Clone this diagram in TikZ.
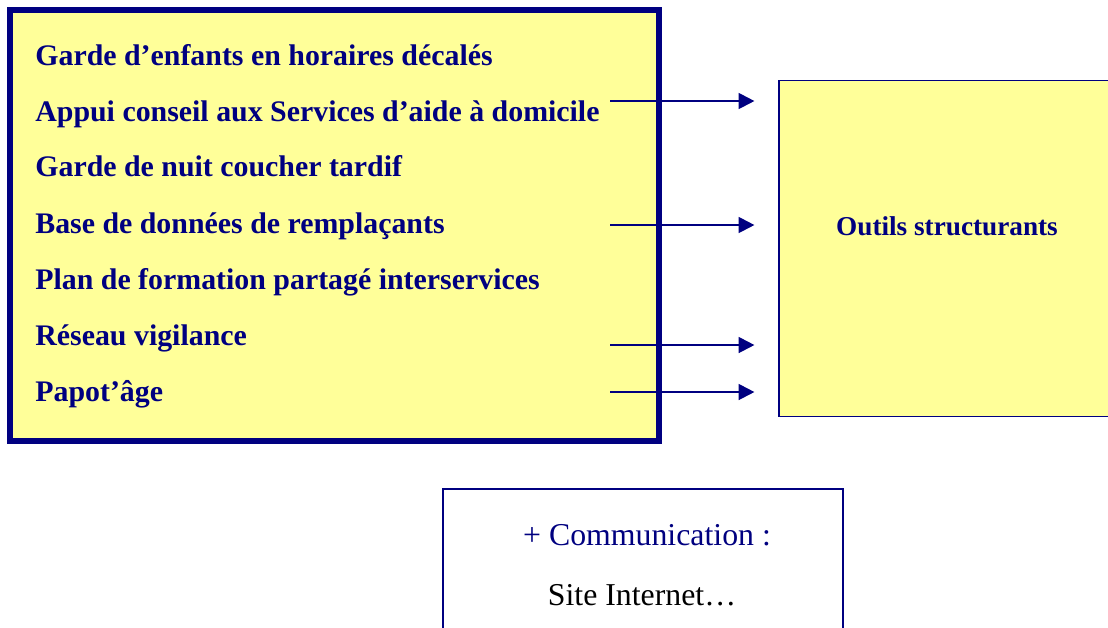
\documentclass[tikz,border=0pt]{standalone}
\usepackage{fontspec}
\setmainfont{Liberation Serif}
\usetikzlibrary{arrows.meta,positioning}
\definecolor{navy}{HTML}{000080}
\definecolor{paleyellow}{HTML}{FFFF99}
\tikzset{
  item/.style={anchor=base west, inner sep=0pt, text=navy, font=\fontsize{17}{20}\selectfont\bfseries},
  feed/.style={->, navy, line width=1.2pt, shorten >=0.48cm},
}

\begin{document}
\begin{tikzpicture}[x=0.02cm, y=-0.02cm, >={Triangle[length=9pt,width=9pt]}]
    \clip (0,0) rectangle (1108,627);

    % Actions panel
    \draw[navy, line width=3.4pt, fill=paleyellow] (10,10) rectangle (659,441);
    \foreach \y/\name/\txt in {65/garde/Garde d’enfants en horaires décalés,
                               121/appui/Appui conseil aux Services d’aide à domicile,
                               176/nuit/Garde de nuit coucher tardif,
                               233/base/Base de données de remplaçants,
                               289/plan/Plan de formation partagé interservices,
                               345/reseau/Réseau vigilance,
                               401/papotage/Papot’âge}
        \node[item] (\name) at (35,\y) {\txt};

    % Tools box
    \node[draw=navy, line width=0.7pt, fill=paleyellow, minimum width=6.72cm, minimum height=6.72cm] (outils) at (947,248.7) {};
    \node[anchor=base, text=navy, font=\fontsize{15.5}{18}\selectfont\bfseries] (outilstxt) at (947,235) {Outils structurants};

    % Arrows
    \coordinate (a1) at (610,101);
    \coordinate (a2) at (610,225);
    \coordinate (a3) at (610,345);
    \coordinate (a4) at (610,392);
    \foreach \a in {a1,a2,a3,a4}
        \draw[feed] (\a) -- (\a -| outils.west);

    % Communication box
    \draw[navy, line width=0.7pt, fill=white] (443,489) rectangle (843,660);
    \node[anchor=base, font=\fontsize{18.1}{22}\selectfont] (comm) at (647,545) {\textcolor{navy}{+ Communication :}};
    \node[anchor=base, font=\fontsize{18.1}{22}\selectfont] (site) at (642,605) {Site Internet…};
\end{tikzpicture}
\end{document}
